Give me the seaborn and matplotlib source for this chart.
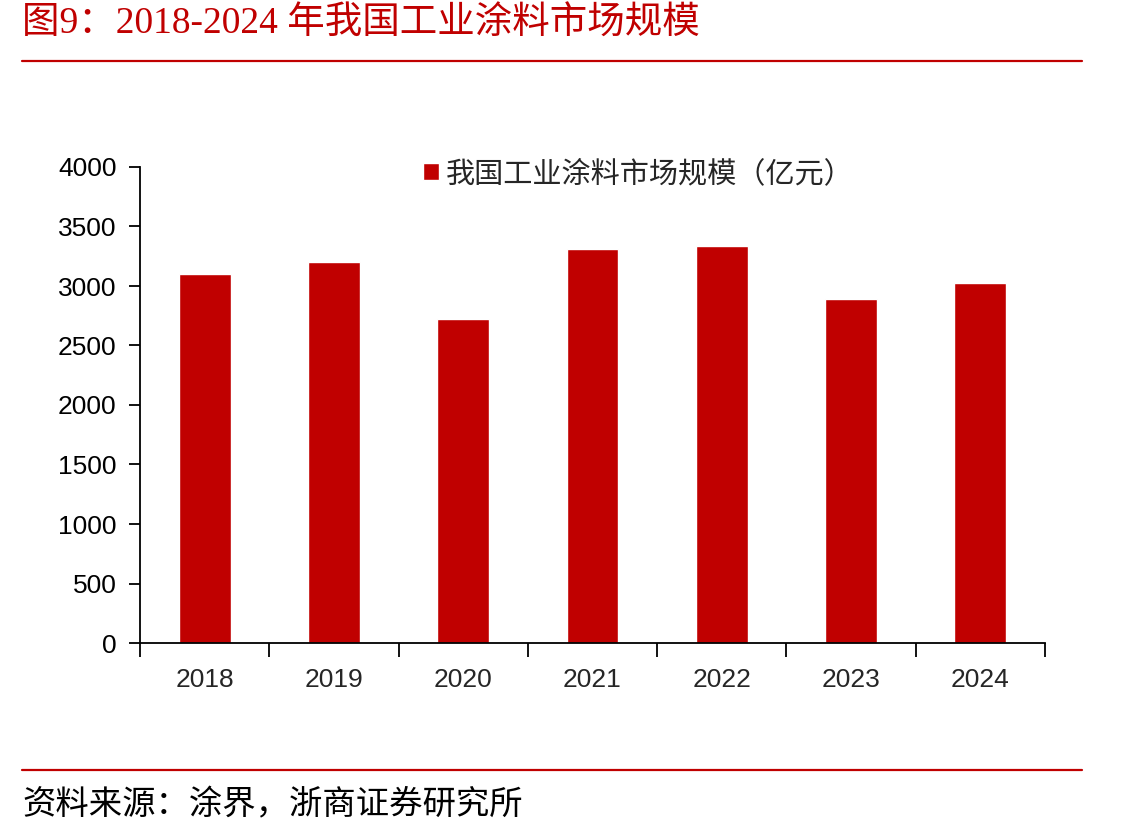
import matplotlib
matplotlib.use("Agg")
import matplotlib.pyplot as plt
from matplotlib.lines import Line2D
import seaborn as sns
import pandas as pd

years = ["2018", "2019", "2020", "2021", "2022", "2023", "2024"]
market_size = [3100, 3200, 2720, 3310, 3336, 2890, 3025]
series_name = "我国工业涂料市场规模（亿元）"
title = "图9：2018-2024 年我国工业涂料市场规模"
source = "资料来源：涂界，浙商证券研究所"
yticks = [0, 500, 1000, 1500, 2000, 2500, 3000, 3500, 4000]

RED = "#C00000"


def main():
    sns.set_style("ticks")
    plt.rcParams["font.family"] = ["Liberation Sans", "Noto Sans CJK SC", "DejaVu Sans"]

    df = pd.DataFrame({"year": years, "value": market_size})

    W, H = 1141, 838
    fig = plt.figure(figsize=(W / 100, H / 100), dpi=100)
    ax = fig.add_axes([140 / W, 1 - 643 / H, 905 / W, 476 / H])

    sns.barplot(data=df, x="year", y="value", color=RED, width=0.4,
                saturation=1, label=series_name, ax=ax)
    if ax.get_legend() is not None:
        ax.get_legend().remove()

    ax.set_xlim(-0.5, len(years) - 0.5)
    ax.set_ylim(0, 4000)
    ax.set_yticks(yticks)
    ax.set_xlabel("")
    ax.set_ylabel("")
    for s in ["top", "right"]:
        ax.spines[s].set_visible(False)
    for s in ["left", "bottom"]:
        ax.spines[s].set_color("black")
        ax.spines[s].set_linewidth(1.3)

    ax.tick_params(axis="y", direction="out", length=8, width=1.3,
                   labelsize=19, pad=9, colors="black")
    ax.tick_params(axis="x", which="major", length=0, labelsize=19, pad=18)
    ax.set_xticks([i - 0.5 for i in range(len(years) + 1)], minor=True)
    ax.tick_params(axis="x", which="minor", length=10, width=1.3, color="black")

    handles, labels = ax.get_legend_handles_labels()
    fig.legend(handles, labels, loc="center left",
               bbox_to_anchor=(408 / W, 1 - 174 / H), frameon=False,
               handlelength=0.55, handleheight=0.55, handletextpad=0.25,
               borderpad=0, prop={"family": ["Noto Sans CJK SC"], "size": 21})

    fig.text(22 / W, 1 - 24 / H, title, color=RED, fontsize=27,
             va="center", ha="left",
             family=["Liberation Serif", "Noto Sans CJK SC"])
    fig.add_artist(Line2D([22 / W, 1082 / W], [1 - 61 / H, 1 - 61 / H],
                          color=RED, lw=1.6))
    fig.add_artist(Line2D([22 / W, 1082 / W], [1 - 770 / H, 1 - 770 / H],
                          color=RED, lw=1.6))
    fig.text(22 / W, 1 - 805 / H, source, color="black", fontsize=24,
             va="center", ha="left",
             family=["Liberation Serif", "Noto Sans CJK SC"])

    fig.savefig("out.png", dpi=100)


if __name__ == "__main__":
    main()
